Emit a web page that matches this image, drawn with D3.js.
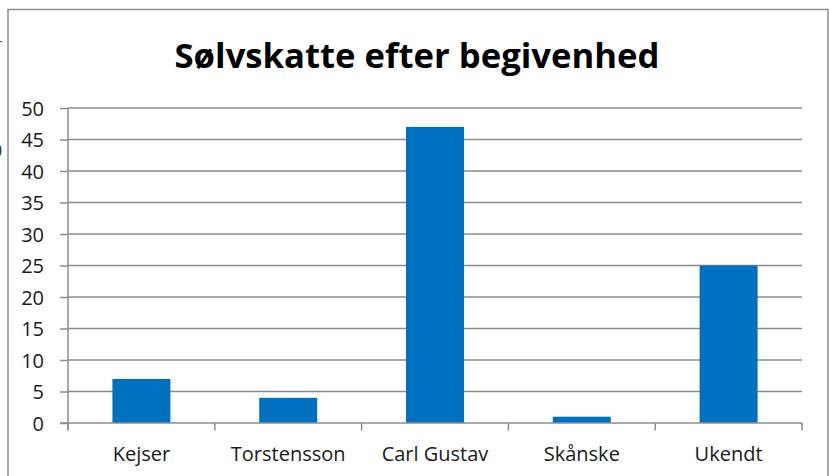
<!DOCTYPE html>
<html>
<head>
<meta charset="utf-8">
<script src="https://cdn.jsdelivr.net/npm/d3@7"></script>
<style>
  body { margin: 0; background: #fff; }
  svg { display: block; }
  text { font-family: "Open Sans", "DejaVu Sans", sans-serif; }
</style>
</head>
<body>
<svg id="chart" width="829" height="476"></svg>
<script>
const categories = ["Kejser", "Torstensson", "Carl Gustav", "Skånske", "Ukendt"];
const values = [7, 4, 47, 1, 25];
const yTicks = [0, 5, 10, 15, 20, 25, 30, 35, 40, 45, 50];
const title = "Sølvskatte efter begivenhed";

const W = 829, H = 476;
const margin = { left: 68, right: 27, top: 108, bottom: 53 };
const plotW = W - margin.left - margin.right;
const plotH = H - margin.top - margin.bottom;

const svg = d3.select("#chart");

// stray bits of the window behind the chart
svg.append("text").attr("x", -8).attr("y", 157).style("font-size", "18px").style("fill", "#333").text("0");
svg.append("line").attr("x1", 0).attr("x2", 2).attr("y1", 41.5).attr("y2", 41.5).style("stroke", "#555");

// chart area border
svg.append("rect")
  .attr("x", 8).attr("y", 9.5)
  .attr("width", 820).attr("height", 480)
  .style("fill", "none").style("stroke", "#8e8e8e").style("stroke-width", 1.5);

const title_t = svg.append("text")
  .attr("x", 417).attr("y", 68)
  .attr("text-anchor", "middle")
  .style("font-size", "34px").style("font-weight", "bold").style("fill", "#000")
  .text(title);
// fit title to its width in the reference
const tw = title_t.node().getComputedTextLength();
title_t.style("font-size", (34 * 485 / tw) + "px");

const g = svg.append("g").attr("transform", `translate(${margin.left},${margin.top})`);

const x = d3.scaleBand().domain(categories).range([0, plotW]).paddingInner(0.605).paddingOuter(0.3025);
const y = d3.scaleLinear().domain([0, 50]).range([plotH, 0]);

// gridlines
g.selectAll(".grid").data(yTicks.filter(d => d > 0)).join("line")
  .attr("class", "grid")
  .attr("x1", 0).attr("x2", plotW)
  .attr("y1", d => y(d)).attr("y2", d => y(d))
  .style("stroke", "#8c8c8c").style("stroke-width", 1.5);

// bars
g.selectAll(".bar").data(values).join("rect")
  .attr("class", "bar")
  .attr("x", (d, i) => x(categories[i]))
  .attr("width", x.bandwidth())
  .attr("y", d => y(d))
  .attr("height", d => plotH - y(d))
  .style("fill", "#0070c0");

// y axis
const yAxis = g.append("g")
  .call(d3.axisLeft(y).tickValues(yTicks).tickSize(8).tickPadding(16));
yAxis.select(".domain").attr("d", `M0,0V${plotH + 7}`);
yAxis.selectAll("path, line").style("stroke", "#8c8c8c").style("stroke-width", 1.5);
yAxis.selectAll("text").style("font-size", "20px").style("fill", "#1a1a1a").attr("dy", "0.36em");

// x axis
const xPos = d3.scaleLinear().domain([0, categories.length]).range([0, plotW]);
const xAxis = g.append("g").attr("transform", `translate(0,${plotH})`);
xAxis.append("line").attr("x1", -8).attr("x2", plotW)
  .style("stroke", "#8c8c8c").style("stroke-width", 1.5);
xAxis.selectAll(".tick").data(d3.range(categories.length + 1)).join("line")
  .attr("class", "tick")
  .attr("x1", d => xPos(d)).attr("x2", d => xPos(d))
  .attr("y1", 0).attr("y2", 7.5)
  .style("stroke", "#8c8c8c").style("stroke-width", 1.5);
xAxis.selectAll(".lbl").data(categories).join("text")
  .attr("class", "lbl")
  .attr("x", d => x(d) + x.bandwidth() / 2)
  .attr("y", 37.5)
  .attr("text-anchor", "middle")
  .style("font-size", "20px").style("fill", "#1a1a1a")
  .text(d => d);
</script>
</body>
</html>
